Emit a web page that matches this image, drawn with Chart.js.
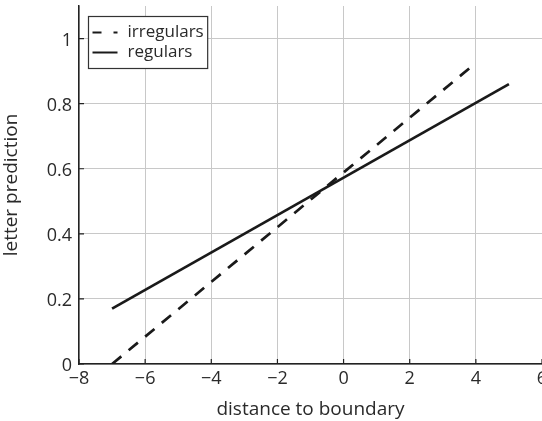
<!DOCTYPE html>
<html>
<head>
<meta charset="utf-8">
<script src="https://cdn.jsdelivr.net/npm/chart.js@4/dist/chart.umd.min.js"></script>
<style>
html,body{margin:0;padding:0;background:#fff;}
#wrap{width:542px;height:421px;position:relative;}
</style>
</head>
<body>
<div id="wrap"><canvas id="c" width="542" height="421"></canvas></div>
<script>
const irregularX = [-7, 4];
const irregularY = [0.0, 0.925];
const regularX = [-7, 5];
const regularY = [0.17, 0.86];
const xTickValues = [-8, -6, -4, -2, 0, 2, 4, 6];
const yTickValues = [0, 0.2, 0.4, 0.6, 0.8, 1];
const seriesNames = ['irregulars', 'regulars'];

const FONT = 'Open Sans';
const TXT = '#2a2a2a';
const TICK_SIZE = 18;
const TITLE_SIZE = 19;

const inwardTicks = {
  id: 'inwardTicks',
  afterDatasetsDraw(chart) {
    const ctx = chart.ctx;
    const xs = chart.scales.x, ys = chart.scales.y;
    const a = chart.chartArea;
    ctx.save();
    ctx.strokeStyle = '#222';
    ctx.lineWidth = 1.2;
    ctx.beginPath();
    xs.ticks.forEach(t => {
      const px = xs.getPixelForValue(t.value);
      ctx.moveTo(px, a.bottom);
      ctx.lineTo(px, a.bottom - 5);
    });
    ys.ticks.forEach(t => {
      const py = ys.getPixelForValue(t.value);
      ctx.moveTo(a.left, py);
      ctx.lineTo(a.left + 5, py);
    });
    ctx.stroke();
    ctx.restore();
  }
};

const boxLegend = {
  id: 'boxLegend',
  afterDraw(chart) {
    const ctx = chart.ctx;
    const a = chart.chartArea;
    const x0 = Math.round(a.left + 9) + 0.5;
    const y0 = Math.round(a.top + 10) + 0.5;
    const rowH = 20;
    ctx.save();
    ctx.font = '17px "' + FONT + '"';
    const labels = chart.data.datasets.map(d => d.label);
    const tw = Math.max(...labels.map(t => ctx.measureText(t).width));
    const w = 39 + tw + 4;
    const h = rowH * labels.length + 12;
    ctx.fillStyle = '#fff';
    ctx.fillRect(x0, y0, w, h);
    ctx.strokeStyle = '#333';
    ctx.lineWidth = 1.2;
    ctx.strokeRect(x0, y0, w, h);
    chart.data.datasets.forEach((d, i) => {
      const cy = y0 + 16 + i * rowH;
      ctx.strokeStyle = d.borderColor;
      ctx.lineWidth = 2;
      ctx.setLineDash(d.borderDash ? [9, 12] : []);
      ctx.beginPath();
      ctx.moveTo(x0 + 4, cy);
      ctx.lineTo(x0 + 29, cy);
      ctx.stroke();
      ctx.setLineDash([]);
      ctx.fillStyle = TXT;
      ctx.textBaseline = 'middle';
      ctx.textAlign = 'left';
      ctx.fillText(d.label, x0 + 39, cy);
    });
    ctx.restore();
  }
};

new Chart(document.getElementById('c'), {
  type: 'scatter',
  data: {
    datasets: [
      {
        label: seriesNames[0],
        data: irregularX.map((x, i) => ({x, y: irregularY[i]})),
        showLine: true,
        borderColor: '#1a1a1a',
        backgroundColor: '#1a1a1a',
        borderWidth: 2.7,
        borderDash: [12, 9.5],
        pointRadius: 0,
        fill: false
      },
      {
        label: seriesNames[1],
        data: regularX.map((x, i) => ({x, y: regularY[i]})),
        showLine: true,
        borderColor: '#1a1a1a',
        backgroundColor: '#1a1a1a',
        borderWidth: 2.7,
        pointRadius: 0,
        fill: false
      }
    ]
  },
  options: {
    responsive: false,
    animation: false,
    devicePixelRatio: 1,
    layout: { padding: { top: 6, right: 0, left: 0, bottom: 0 } },
    plugins: {
      tooltip: { enabled: false },
      legend: { display: false }
    },
    scales: {
      x: {
        type: 'linear',
        min: -8, max: 6,
        afterBuildTicks(s) { s.ticks = xTickValues.map(v => ({value: v})); },
        afterFit(s) { s.height = 57; s.paddingRight = 0; s.paddingLeft = 0; },
        grid: { color: '#c8c8c8', lineWidth: 1, drawTicks: false },
        border: { color: '#222', width: 1.5 },
        ticks: {
          color: TXT, font: { family: FONT, size: TICK_SIZE }, padding: 4,
          maxRotation: 0, autoSkip: false,
          callback: v => (v < 0 ? '\u2212' + Math.abs(v) : String(v))
        },
        title: { display: true, text: 'distance to boundary', color: TXT, font: { family: FONT, size: TITLE_SIZE }, padding: { top: 2, bottom: 0 } }
      },
      y: {
        type: 'linear',
        min: 0, max: 1.1,
        afterBuildTicks(s) { s.ticks = yTickValues.map(v => ({value: v})); },
        afterFit(s) { s.width = 79; s.paddingTop = 0; s.paddingBottom = 0; },
        grid: { color: '#c8c8c8', lineWidth: 1, drawTicks: false },
        border: { color: '#222', width: 1.5 },
        ticks: {
          color: TXT, font: { family: FONT, size: TICK_SIZE }, padding: 7,
          autoSkip: false, labelOffset: 2,
          callback: v => String(Math.round(v * 10) / 10)
        },
        title: { display: true, text: 'letter prediction', color: TXT, font: { family: FONT, size: TITLE_SIZE }, padding: { top: 0, bottom: 4 } }
      }
    }
  },
  plugins: [inwardTicks, boxLegend]
});
</script>
</body>
</html>
